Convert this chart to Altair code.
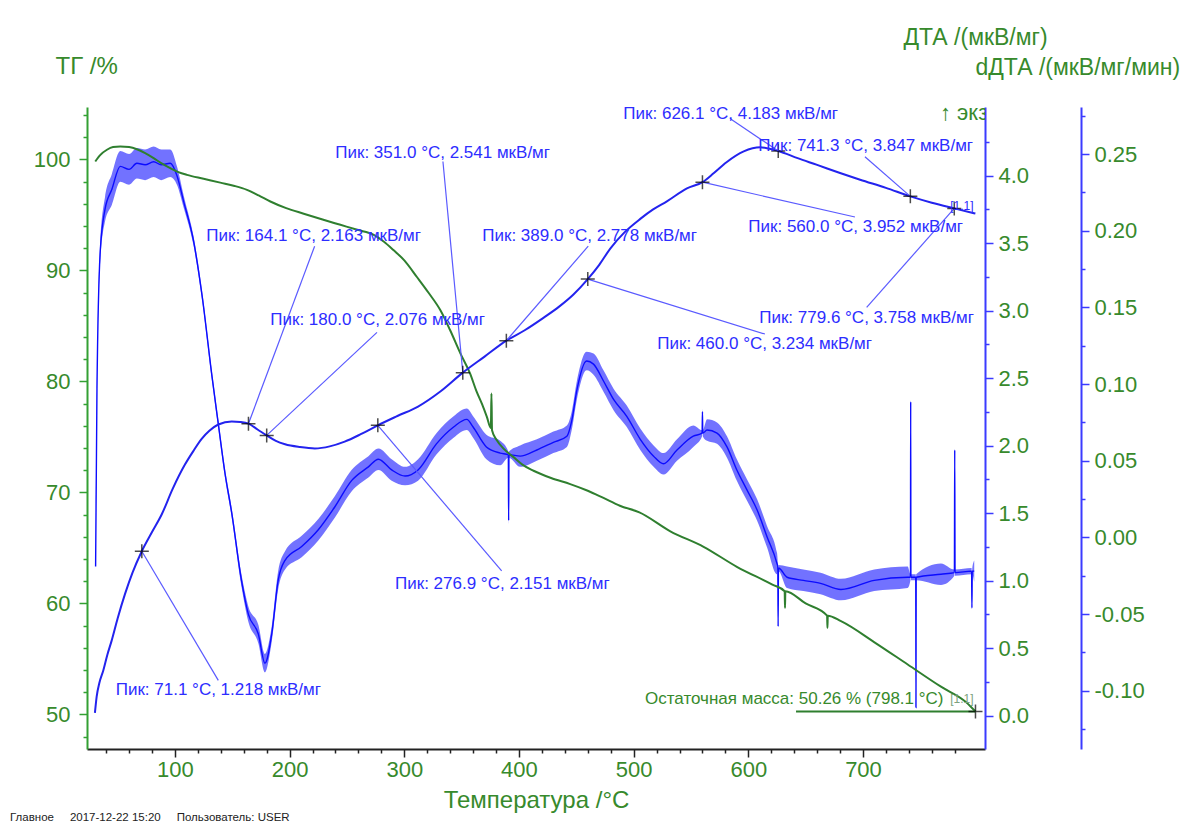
import altair as alt
import pandas as pd

# ---------------- TG: mass, % ----------------
tg_t = [30.5, 35, 40.7, 46, 52.3, 60, 66.8, 74, 81.4, 88, 95.9, 103, 110.5, 125,
        139.5, 152, 162.8, 173, 183.2, 197, 212.3, 228, 244.3, 259, 273.4, 282,
        290.8, 300, 311, 321, 331.5, 340, 349, 357.4, 363, 368, 372, 375.5, 376,
        376.5, 380.7, 387, 395, 403, 412.7, 428, 444.7, 460, 473.7, 488, 505, 532,
        561, 590, 621, 631.7, 632, 632.3, 650, 668.7, 669, 669.3, 680.8, 710, 739,
        768, 790, 798.1]
tg_v = [99.8, 100.4, 100.86, 101.1, 101.16, 101.1, 100.9, 100.55, 100.1, 99.65,
        99.2, 98.85, 98.6, 98.25, 97.9, 97.6, 97.25, 96.75, 96.2, 95.6, 95.1, 94.6,
        94.1, 93.65, 93.2, 92.6, 91.8, 90.9, 89.4, 88.0, 86.4, 84.6, 82.5, 80.7,
        79.1, 77.9, 76.8, 75.8, 78.9, 75.6, 74.7, 73.9, 73.2, 72.5, 71.95, 71.3,
        70.75, 70.15, 69.5, 68.8, 68.2, 66.5, 65.1, 63.3, 61.7, 61.1, 59.6, 61.1,
        60.0, 58.9, 57.8, 58.9, 58.4, 56.5, 54.5, 52.5, 51.1, 50.26]

# ---------------- DTA: uV/mg ----------------
dta_t = [30.2, 31.7, 34, 37.5, 41, 44.8, 50, 56.4, 63, 71.1, 80, 88.4, 98, 108.7,
         116, 123.3, 130, 137.8, 149.5, 157, 164.1, 172, 180.0, 188, 196, 209, 222,
         235, 248, 262, 276.9, 294, 312, 332, 351.0, 370, 389.0, 405, 421, 435,
         447.5, 460.0, 470, 479.6, 492, 505.8, 517, 529, 546.5, 560.0, 570, 581,
         596, 610.5, 626.1, 643, 660, 680, 697.5, 720, 741.3, 760, 779.6, 798]
dta_v = [0.02, 0.14, 0.24, 0.335, 0.45, 0.556, 0.72, 0.90, 1.06, 1.218, 1.36, 1.49,
         1.68, 1.86, 1.96, 2.05, 2.11, 2.157, 2.18, 2.176, 2.163, 2.12, 2.076,
         2.035, 2.01, 1.99, 1.98, 1.995, 2.03, 2.085, 2.151, 2.22, 2.29, 2.405,
         2.541, 2.66, 2.778, 2.855, 2.945, 3.03, 3.12, 3.234, 3.34, 3.46, 3.58,
         3.68, 3.75, 3.81, 3.906, 3.952, 4.02, 4.10, 4.18, 4.21, 4.183, 4.13, 4.08,
         4.02, 3.97, 3.91, 3.847, 3.80, 3.758, 3.72]

# ---------------- dDTA: uV/mg/min (centre of the noisy trace and its scatter) ----------------
ddta_t = [30.8, 32.0, 34.8, 39.0, 45.0, 52.3, 60.0, 66.8, 74.0, 81.4, 88.0, 95.9,
          101.7, 107.6, 116.3, 123.6, 132.3, 137.8, 143.6, 149.5, 158.0, 164.0,
          172.7, 178.5, 184.4, 190.0, 196.0, 210.5, 225.0, 239.5, 254.0, 268.7,
          277.4, 289.0, 300.7, 312.0, 328.0, 343.0, 354.5, 360.0, 371.6, 383.6,
          390.7, 391.0, 391.3, 401.0, 415.6, 430.0, 441.8, 446.0, 450.5, 459.0,
          465.0, 473.7, 482.5, 494.0, 505.8, 517.4, 526.0, 537.8, 552.0, 559.7,
          560.0, 560.3, 564.0, 572.7, 581.4, 590.0, 598.8, 607.6, 616.3, 625.0,
          625.7, 626.0, 626.3, 633.8, 648.0, 663.0, 680.8, 709.8, 739.0, 741.4,
          741.6, 741.8, 746.0, 746.2, 746.4, 768.0, 779.7, 780.0, 780.3, 794.7,
          795.0, 795.3, 797.0]
ddta_v = [-0.019, 0.097, 0.186, 0.214, 0.227, 0.242, 0.240, 0.244, 0.243, 0.245,
          0.243, 0.244, 0.236, 0.219, 0.193, 0.158, 0.105, 0.074, 0.042, 0.016,
          -0.028, -0.050, -0.063, -0.082, -0.063, -0.028, -0.015, -0.006, 0.005,
          0.020, 0.037, 0.046, 0.051, 0.044, 0.040, 0.044, 0.061, 0.072, 0.077,
          0.072, 0.059, 0.055, 0.054, 0.011, 0.054, 0.053, 0.057, 0.062, 0.066,
          0.076, 0.096, 0.115, 0.113, 0.102, 0.090, 0.079, 0.064, 0.053, 0.048,
          0.057, 0.066, 0.068, 0.082, 0.068, 0.070, 0.068, 0.059, 0.044, 0.031,
          0.018, 0.0005, -0.017, -0.019, -0.058, -0.020, -0.026, -0.028, -0.030,
          -0.034, -0.028, -0.026, -0.026, 0.0885, -0.026, -0.026, -0.111, -0.026,
          -0.024, -0.023, 0.057, -0.023, -0.022, -0.046, -0.022, -0.022]
ddta_spread = [0.003, 0.004, 0.006, 0.008, 0.010, 0.010, 0.010, 0.010, 0.010, 0.010,
               0.010, 0.009, 0.006, 0.004, 0.003, 0.003, 0.003, 0.003, 0.003, 0.003,
               0.004, 0.005, 0.006, 0.006, 0.005, 0.006, 0.006, 0.007, 0.007, 0.007,
               0.007, 0.007, 0.007, 0.007, 0.006, 0.007, 0.007, 0.007, 0.007, 0.007,
               0.008, 0.008, 0.002, 0.002, 0.002, 0.007, 0.007, 0.007, 0.007, 0.006,
               0.006, 0.006, 0.007, 0.007, 0.007, 0.007, 0.007, 0.007, 0.007, 0.007,
               0.007, 0.002, 0.002, 0.002, 0.007, 0.007, 0.007, 0.007, 0.007, 0.007,
               0.007, 0.007, 0.002, 0.002, 0.002, 0.007, 0.007, 0.007, 0.007, 0.007,
               0.007, 0.002, 0.002, 0.002, 0.002, 0.002, 0.002, 0.007, 0.002, 0.002,
               0.002, 0.002, 0.002, 0.002, 0.007]

# ---------------- DTA peaks and their annotations ----------------
peak_t = [71.1, 164.1, 180.0, 276.9, 351.0, 389.0, 460.0, 560.0, 626.1, 741.3, 779.6]
peak_v = [1.218, 2.163, 2.076, 2.151, 2.541, 2.778, 3.234, 3.952, 4.183, 3.847, 3.758]
# left end of each label, in axis units (°C, uV/mg)
label_t = [48.3, 127.3, 183.1, 291.9, 239.8, 368.0, 520.6, 600.0, 491.0, 608.7, 609.5]
label_v = [0.188, 3.557, 2.933, 0.974, 4.171, 3.557, 2.754, 3.621, 4.460, 4.220, 2.946]
# label-side end of each leader line
lead_t = [137.8, 221.8, 276.2, 384.9, 333.7, 460.4, 614.5, 693.0, 584.0, 701.7, 703.2]
lead_v = [0.261, 3.478, 2.839, 1.072, 4.105, 3.478, 2.827, 3.694, 4.424, 4.141, 3.024]

# segment tags
seg_t = 776.0
seg_v = 3.775

# residual mass
resid_t = 798.1
resid_v = 50.26
resid_label_t = 509.9
resid_label_v = 51.38
resid_line_from = 641.6

# axis tick positions
x_ticks = list(range(40, 800, 20))
tg_ticks = list(range(48, 105, 2))
dta_ticks = [round(0.25 * k, 2) for k in range(0, 18)]
ddta_ticks = [round(0.025 * k, 3) for k in range(-5, 12)]

# ---------------- styling ----------------
FONT = "Liberation Sans"
GREEN_TXT = "#378a2c"
GREEN_AX = "#33a033"
GREEN_LINE = "#2f7f2f"
BLUE_AX = "#3b3bff"
BLUE_LINE = "#2323ee"
BLUE_TXT = "#2d2dff"
BLUE_LEAD = "#5a5aff"

x_scale = alt.Scale(domain=[23.3, 806.4], nice=False, zero=False)
tg_scale = alt.Scale(domain=[46.89, 104.71], nice=False, zero=False)
dta_scale = alt.Scale(domain=[-0.247, 4.509], nice=False, zero=False)
ddta_scale = alt.Scale(domain=[-0.138, 0.2807], nice=False, zero=False)


def tick_len(test):
    return {"condition": {"test": test, "value": 8}, "value": 4}


x_axis = alt.Axis(
    orient="bottom", values=x_ticks, format="d",
    labelExpr="datum.value % 100 === 0 ? datum.label : ''",
    tickSize=tick_len("datum.value % 100 === 0"), tickColor="#222", tickWidth=1.5,
    domainColor="#222", domainWidth=2, labelColor=GREEN_TXT, labelFont=FONT,
    labelFontSize=22, labelPadding=2, labelOverlap=False, labelFlush=False,
    title="Температура /°C", titleFont=FONT, titleFontSize=24,
    titleFontWeight="normal", titleColor=GREEN_TXT, titleY=51,
    titleBaseline="middle",
)


def xenc(field):
    return alt.X(field, type="quantitative", scale=x_scale, axis=x_axis)


tg_axis = alt.Axis(
    orient="left", values=tg_ticks, format="d",
    labelExpr="datum.value % 10 === 0 ? datum.label : ''",
    tickSize=tick_len("datum.value % 10 === 0"), tickColor=GREEN_AX, tickWidth=1.5,
    domainColor=GREEN_AX, domainWidth=2, labelColor=GREEN_TXT, labelFont=FONT,
    labelFontSize=22, labelPadding=9, labelOverlap=False, labelFlush=False,
    title="ТГ /%", titleAngle=0, titleX=-32, titleY=-41, titleAlign="left",
    titleBaseline="middle", titleFont=FONT, titleFontSize=24,
    titleFontWeight="normal", titleColor=GREEN_TXT,
)

half_test = "abs(datum.value * 2 - round(datum.value * 2)) < 0.001"
dta_axis = alt.Axis(
    orient="right", values=dta_ticks, format=".1f",
    labelExpr=half_test + " ? datum.label : ''",
    tickSize=tick_len(half_test), tickColor=BLUE_AX, tickWidth=1.5,
    domainColor=BLUE_AX, domainWidth=2, labelColor=GREEN_TXT, labelFont=FONT,
    labelFontSize=22, labelPadding=5, labelOverlap=False, labelFlush=False,
    title="ДТА /(мкВ/мг)", titleAngle=0, titleX=-82, titleY=-70, titleAlign="left",
    titleBaseline="middle", titleFont=FONT, titleFontSize=23,
    titleFontWeight="normal", titleColor=GREEN_TXT,
)

twentieth_test = "abs(datum.value * 20 - round(datum.value * 20)) < 0.001"
ddta_axis = alt.Axis(
    orient="right", offset=96, values=ddta_ticks, format=".2f",
    labelExpr=twentieth_test + " ? replace(datum.label, '\u2212', '-') : ''",
    tickSize=tick_len(twentieth_test), tickColor=BLUE_AX, tickWidth=1.5,
    domainColor=BLUE_AX, domainWidth=2, labelColor=GREEN_TXT, labelFont=FONT,
    labelFontSize=22, labelPadding=5, labelOverlap=False, labelFlush=False,
    title="dДТА /(мкВ/мг/мин)", titleAngle=0, titleX=-106, titleY=-40,
    titleAlign="left", titleBaseline="middle", titleFont=FONT, titleFontSize=23,
    titleFontWeight="normal", titleColor=GREEN_TXT,
)

# ---------------- tables ----------------
tg_df = pd.DataFrame({"T": tg_t, "TG": tg_v})
dta_df = pd.DataFrame({"T": dta_t, "DTA": dta_v})
ddta_df = pd.DataFrame({
    "T": ddta_t, "D": ddta_v,
    "lo": [v - s for v, s in zip(ddta_v, ddta_spread)],
    "hi": [v + s for v, s in zip(ddta_v, ddta_spread)],
})
peaks_df = pd.DataFrame({
    "pt": peak_t, "pv": peak_v, "lt": label_t, "lv": label_v,
    "et": lead_t, "ev": lead_v,
    "label": [f"Пик: {t:.1f} °C, {v:.3f} мкВ/мг" for t, v in zip(peak_t, peak_v)],
})
resid_df = pd.DataFrame({
    "T": [resid_t], "TG": [resid_v], "T0": [resid_line_from],
    "lt": [resid_label_t], "lv": [resid_label_v],
    "label": [f"Остаточная масса: {resid_v:.2f} % ({resid_t:.1f} °C)"],
})
seg_df = pd.DataFrame({"lt": [seg_t], "lv": [seg_v], "label": ["[1.1]"]})
seg_tg_df = pd.DataFrame({"lt": [seg_t], "lv": [resid_label_v], "label": ["[1.1]"]})
exo_df = pd.DataFrame({"lt": [767.1], "lv": [4.468], "label": ["↑ экз"]})

CROSS = "M-1,0L1,0M0,-1L0,1"

# ---------------- layers ----------------
ddta_band = alt.Chart(ddta_df).mark_area(color="#1c1cff", opacity=0.62,
                                         interpolate="monotone").encode(
    x=xenc("T"), y=alt.Y("lo:Q", scale=ddta_scale, axis=None), y2="hi:Q")
ddta_line = alt.Chart(ddta_df).mark_line(color="#0c0cff", strokeWidth=1.4,
                                         interpolate="monotone").encode(
    x=xenc("T"), y=alt.Y("D:Q", scale=ddta_scale, axis=ddta_axis))

tg_line = alt.Chart(tg_df).mark_line(color=GREEN_LINE, strokeWidth=2,
                                       interpolate="monotone").encode(
    x=xenc("T"), y=alt.Y("TG:Q", scale=tg_scale, axis=tg_axis))
tg_under = alt.Chart(resid_df).mark_rule(color=GREEN_LINE, strokeWidth=2).encode(
    x=xenc("T0"), x2="T:Q", y=alt.Y("TG:Q", scale=tg_scale, axis=None))
tg_cross = alt.Chart(resid_df).mark_point(shape=CROSS, size=196, filled=False,
                                          stroke="black", strokeWidth=1.5).encode(
    x=xenc("T"), y=alt.Y("TG:Q", scale=tg_scale, axis=None))
tg_text = alt.Chart(resid_df).mark_text(align="left", baseline="middle", font=FONT,
                                        fontSize=17, color=GREEN_TXT).encode(
    x=xenc("lt"), y=alt.Y("lv:Q", scale=tg_scale, axis=None), text="label:N")
tg_seg = alt.Chart(seg_tg_df).mark_text(align="left", baseline="middle", font=FONT,
                                        fontSize=12, color="#7da27d").encode(
    x=xenc("lt"), y=alt.Y("lv:Q", scale=tg_scale, axis=None), text="label:N")

dta_line = alt.Chart(dta_df).mark_line(color=BLUE_LINE, strokeWidth=2,
                                         interpolate="monotone").encode(
    x=xenc("T"), y=alt.Y("DTA:Q", scale=dta_scale, axis=dta_axis))
leaders = alt.Chart(peaks_df).mark_rule(color=BLUE_LEAD, strokeWidth=1.2).encode(
    x=xenc("et"), x2="pt:Q", y=alt.Y("ev:Q", scale=dta_scale, axis=None), y2="pv:Q")
crosses = alt.Chart(peaks_df).mark_point(shape=CROSS, size=196, filled=False,
                                         stroke="black", strokeWidth=1.5).encode(
    x=xenc("pt"), y=alt.Y("pv:Q", scale=dta_scale, axis=None))
labels = alt.Chart(peaks_df).mark_text(align="left", baseline="middle", font=FONT,
                                       fontSize=17, color=BLUE_TXT).encode(
    x=xenc("lt"), y=alt.Y("lv:Q", scale=dta_scale, axis=None), text="label:N")
seg = alt.Chart(seg_df).mark_text(align="left", baseline="middle", font=FONT,
                                  fontSize=12, color=BLUE_TXT).encode(
    x=xenc("lt"), y=alt.Y("lv:Q", scale=dta_scale, axis=None), text="label:N")
exo = alt.Chart(exo_df).mark_text(align="left", baseline="middle", font=FONT,
                                  fontSize=22, color=GREEN_TXT, clip=True).encode(
    x=xenc("lt"), y=alt.Y("lv:Q", scale=dta_scale, axis=None), text="label:N")

footer = ("Главное\u00a0\u00a0\u00a0\u00a0\u00a02017-12-22 15:20"
          "\u00a0\u00a0\u00a0\u00a0\u00a0Пользователь: USER")

chart = alt.layer(
    ddta_band, ddta_line, tg_line, tg_under, dta_line, leaders, crosses, tg_cross,
    labels, seg, tg_text, tg_seg, exo,
).resolve_scale(y="independent").properties(
    width=898, height=642,
    autosize=alt.AutoSizeParams(type="none"),
    padding={"left": 87, "top": 107, "right": 210, "bottom": 74},
    title=alt.TitleParams(footer, orient="bottom", anchor="start", frame="group",
                          dx=-77, offset=0, font=FONT, fontSize=11.5,
                          fontWeight="normal", color="#222"),
).configure_view(strokeWidth=0).configure_axis(grid=False)

chart.save("out.html", embed_options={"renderer": "svg", "actions": False})
